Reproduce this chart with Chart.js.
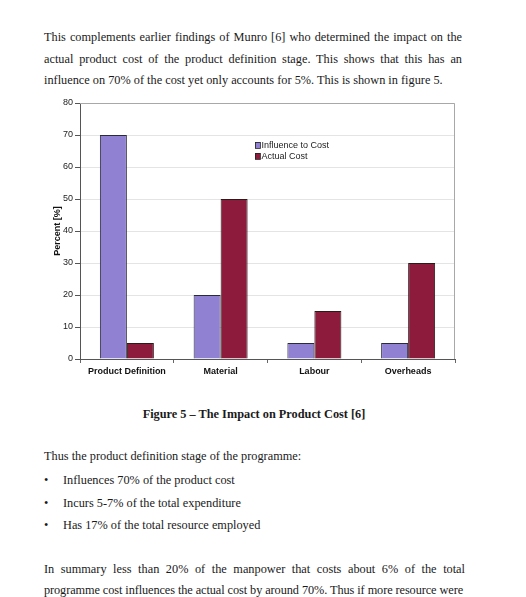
<!DOCTYPE html>
<html>
<head>
<meta charset="utf-8">
<script src="https://cdn.jsdelivr.net/npm/chart.js@4"></script>
<style>
  body { margin: 0; background: #fff; width: 526px; height: 597px; overflow: hidden; position: relative;
         font-family: "Liberation Serif", "Times New Roman", serif; color: #1a1a1a; }
  .ln { position: absolute; left: 44px; width: 418px; font-size: 12.3px; line-height: 14px; }
  .j { text-align: justify; text-align-last: justify; }
  .cap { font-weight: bold; text-align: center; width: 420px; }
  .bul { left: 63px; width: 400px; }
  .dot { position: absolute; left: 44px; font-size: 12.3px; line-height: 14px; }
  #chartBox { position: absolute; left: 40px; top: 95px; width: 430px; height: 290px; }
</style>
</head>
<body>

<div class="ln j" style="top:30px">This complements earlier findings of Munro [6] who determined the impact on the</div>
<div class="ln j" style="top:51.5px">actual product cost of the product definition stage. This shows that this has an</div>
<div class="ln" style="top:73px">influence on 70% of the cost yet only accounts for 5%. This is shown in figure 5.</div>

<div id="chartBox"><canvas id="costChart"></canvas></div>

<div class="ln cap" style="top:407px">Figure 5 – The Impact on Product Cost [6]</div>

<div class="ln" style="top:449px">Thus the product definition stage of the programme:</div>
<div class="dot" style="top:473px">•</div>
<div class="ln bul" style="top:473px">Influences 70% of the product cost</div>
<div class="dot" style="top:495.5px">•</div>
<div class="ln bul" style="top:495.5px">Incurs 5-7% of the total expenditure</div>
<div class="dot" style="top:518px">•</div>
<div class="ln bul" style="top:518px">Has 17% of the total resource employed</div>

<div class="ln j" style="top:562px;width:421px">In summary less than 20% of the manpower that costs about 6% of the total</div>
<div class="ln j" style="top:583px;width:419px;white-space:nowrap;word-spacing:-1.5px;letter-spacing:-0.1px">programme cost influences the actual cost by around 70%. Thus if more resource were</div>

<script>
const categories = ['Product Definition', 'Material', 'Labour', 'Overheads'];
const influenceToCost = [70, 20, 5, 5];
const actualCost = [5, 50, 15, 30];
const yMin = 0;
const yMax = 80;
const yStep = 10;

// gray frame on top and right of the plot, like the excel chart
const framePlugin = {
    id: 'frame',
    beforeDatasetsDraw(chart) {
        const { ctx, chartArea: a } = chart;
        ctx.save();
        ctx.strokeStyle = '#a8a8a8';
        ctx.lineWidth = 1;
        ctx.beginPath();
        ctx.moveTo(a.left, a.top + 0.5);
        ctx.lineTo(a.right - 0.5, a.top + 0.5);
        ctx.lineTo(a.right - 0.5, a.bottom);
        ctx.stroke();
        ctx.restore();
    }
};

// legend sits inside the plot area
const innerLegend = {
    id: 'innerLegend',
    afterDatasetsDraw(chart) {
        const { ctx, chartArea: a } = chart;
        const x = a.left + 175;
        let y = a.top + 42;
        ctx.save();
        ctx.font = '9px "Liberation Sans", Arial, sans-serif';
        ctx.textBaseline = 'middle';
        chart.data.datasets.forEach(ds => {
            ctx.fillStyle = ds.backgroundColor;
            ctx.fillRect(x, y - 3, 5, 6);
            ctx.strokeStyle = '#222';
            ctx.lineWidth = 0.8;
            ctx.strokeRect(x + 0.5, y - 2.5, 5, 6);
            ctx.fillStyle = '#222';
            ctx.fillText(ds.label, x + 6.5, y + 0.5);
            y += 11;
        });
        ctx.restore();
    }
};

const ctx = document.getElementById('costChart').getContext('2d');
new Chart(ctx, {
    type: 'bar',
    data: {
        labels: categories,
        datasets: [{
            label: 'Influence to Cost',
            data: influenceToCost,
            backgroundColor: '#9181d2',
            borderColor: '#2a2a3a',
            borderWidth: 1
        }, {
            label: 'Actual Cost',
            data: actualCost,
            backgroundColor: '#8c1b3c',
            borderColor: '#2a1a1a',
            borderWidth: 1
        }]
    },
    options: {
        responsive: true,
        maintainAspectRatio: false,
        animation: false,
        devicePixelRatio: 1,
        layout: { padding: { top: 8, right: 15, left: 0, bottom: 0 } },
        datasets: { bar: { barPercentage: 1, categoryPercentage: 0.576 } },
        plugins: {
            legend: { display: false },
            tooltip: { enabled: false }
        },
        scales: {
            x: {
                grid: { offset: true, drawOnChartArea: false, tickLength: 4, color: '#666' },
                border: { color: '#555' },
                ticks: {
                    color: '#111',
                    padding: 3,
                    font: { size: 9, weight: 'bold', family: '"Liberation Sans", Arial, sans-serif' }
                },
                afterFit: s => { s.height = 26; }
            },
            y: {
                min: yMin,
                max: yMax,
                ticks: {
                    stepSize: yStep,
                    color: '#222',
                    padding: 2,
                    font: { size: 9, family: '"Liberation Sans", Arial, sans-serif' }
                },
                grid: { color: '#e4e4e4', tickLength: 5, tickColor: '#555' },
                border: { color: '#555' },
                title: {
                    display: true,
                    text: 'Percent [%]',
                    color: '#111',
                    padding: { top: 12, bottom: 0 },
                    font: { size: 9, weight: 'bold', family: '"Liberation Sans", Arial, sans-serif' }
                },
                afterFit: s => { s.width = 40; }
            }
        }
    },
    plugins: [framePlugin, innerLegend]
});
</script>
</body>
</html>
